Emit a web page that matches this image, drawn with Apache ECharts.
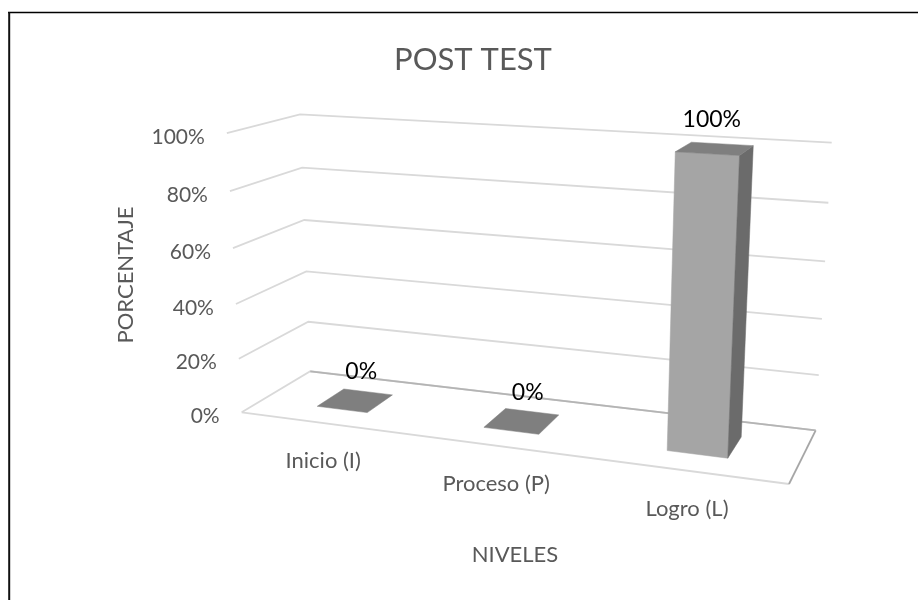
<!DOCTYPE html>
<html>
<head>
<meta charset="utf-8">
<style>
  html, body { margin: 0; padding: 0; background: #fff; }
  #chart { width: 918px; height: 600px; }
</style>
<script src="https://cdn.jsdelivr.net/npm/echarts@6/dist/echarts.min.js"></script>
</head>
<body>
<div id="chart"></div>
<script>
var categories = ['Inicio (I)', 'Proceso (P)', 'Logro (L)'];
var values = [0, 0, 100];
var yTicks = [0, 20, 40, 60, 80, 100];

var textColor = '#595959';
var font = 'Lato';

// corners of the 3d box
var floorA = [241.7, 412.3];  // front left
var floorB = [310.3, 371.3];  // back left
var floorC = [815.7, 430.3];  // back right
var floorD = [789, 484];      // front right
var topBack = [300, 114.3];   // back left at 100%
var topBackR = [831.7, 142.7]; // back right at 100%

// square to quad homography for the floor: u along categories, d from front to back
function floorMatrix() {
  var x0 = floorA[0], y0 = floorA[1];
  var x1 = floorD[0], y1 = floorD[1];
  var x2 = floorC[0], y2 = floorC[1];
  var x3 = floorB[0], y3 = floorB[1];
  var dx1 = x1 - x2, dx2 = x3 - x2, sx = x0 - x1 + x2 - x3;
  var dy1 = y1 - y2, dy2 = y3 - y2, sy = y0 - y1 + y2 - y3;
  var det = dx1 * dy2 - dx2 * dy1;
  var g = (sx * dy2 - dx2 * sy) / det;
  var h = (dx1 * sy - sx * dy1) / det;
  return {
    a: x1 - x0 + g * x1, b: x3 - x0 + h * x3, c: x0,
    d: y1 - y0 + g * y1, e: y3 - y0 + h * y3, f: y0,
    g: g, h: h
  };
}
var m = floorMatrix();

// height terms, solved from the two top back corners
function heightTerms() {
  var wL = m.h + 1, wR = m.g + m.h + 1;
  var xL = m.b + m.c, yL = m.e + m.f;
  var xR = m.a + m.b + m.c, yR = m.d + m.e + m.f;
  // x = (X + p*t) / (W + r*t), same p and r at both corners
  var b1 = -topBack[0], c1 = topBack[0] * wL - xL;
  var b2 = -topBackR[0], c2 = topBackR[0] * wR - xR;
  var r = (c1 - c2) / (b1 - b2);
  var p = c1 - b1 * r;
  var q = topBack[1] * (wL + r) - yL;
  // extra tilt so the right end of the wall lands on its y as well
  var s = topBackR[1] * (wR + r) - yR - q;
  return { p: p, q: q, r: r, s: s };
}
var t = heightTerms();

function project(u, d, v) {
  var w = m.g * u + m.h * d + 1 + t.r * v;
  return [
    (m.a * u + m.b * d + m.c + t.p * v) / w,
    (m.d * u + m.e * d + m.f + t.q * v + t.s * u * v) / w
  ];
}

// hidden cartesian grid gives the scales, result goes through project()
function toBox(params, api, pt) {
  var c = params.coordSys;
  var p = api.coord(pt);
  return [(p[0] - c.x) / c.width, 1 - (p[1] - c.y) / c.height];
}

function poly(points, fill) {
  return { type: 'polygon', shape: { points: points }, style: { fill: fill, stroke: fill, lineWidth: 0.5 } };
}

function line(points, color) {
  return { type: 'polyline', shape: { points: points }, style: { fill: null, stroke: color, lineWidth: 1.8 } };
}

function renderGridLine(params, api) {
  var v = toBox(params, api, [0, api.value(0)])[1];
  var front = project(0, 0, v);
  var children = [
    line([front, project(0, 1, v), project(1, 1, v)], '#d9d9d9'),
    { type: 'text',
      style: {
        text: api.value(0) + '%',
        x: front[0] - 22, y: front[1] + 4,
        align: 'right', verticalAlign: 'middle',
        fill: textColor, font: '21px ' + font
      } }
  ];
  if (v === 0) {
    children.push(line([project(0, 0, 0), project(1, 0, 0)], '#d9d9d9'));
    children.push(line([project(1, 0, 0), project(1, 1, 0)], '#a6a6a6'));
    children.push(line([project(0, 1, 0), project(1, 1, 0)], '#b4b4b4'));
  }
  return { type: 'group', children: children };
}

var depthFront = 0.295, depthBack = 0.705, barWidth = 0.31;

function renderBar(params, api) {
  var cat = api.value(0), val = api.value(1);
  var center = toBox(params, api, [cat, val]);
  var half = api.size([1, 0])[0] / params.coordSys.width * barWidth / 2;
  var u0 = center[0] - half, u1 = center[0] + half, v = center[1];
  var d0 = depthFront, d1 = depthBack;
  var children = [];
  if (v > 0) {
    children.push(poly([project(u0, d0, 0), project(u1, d0, 0), project(u1, d0, v), project(u0, d0, v)], '#a5a5a5'));
    children.push(poly([project(u1, d0, 0), project(u1, d1, 0), project(u1, d1, v), project(u1, d0, v)], '#6b6b6b'));
  }
  children.push(poly([project(u0, d0, v), project(u1, d0, v), project(u1, d1, v), project(u0, d1, v)], '#7f7f7f'));
  var mid = project(center[0], (d0 + d1) / 2, v);
  children.push({ type: 'text',
    style: {
      text: val + '%', x: mid[0] + (v > 0 ? -3 : 6), y: mid[1] - 29,
      align: 'center', verticalAlign: 'middle',
      fill: '#000', font: '23px ' + font
    } });
  return { type: 'group', children: children };
}

function renderCatLabel(params, api) {
  var p = toBox(params, api, [api.value(0), 0]);
  var pos = project(p[0], 0, 0);
  return { type: 'text',
    style: {
      text: categories[api.value(0)], x: pos[0] + 1, y: pos[1] + 38,
      align: 'center', verticalAlign: 'middle',
      fill: textColor, font: '22px ' + font
    } };
}

var chart = echarts.init(document.getElementById('chart'), null, { renderer: 'canvas' });
chart.setOption({
  backgroundColor: '#fff',
  animation: false,
  title: {
    text: 'POST TEST', left: 468, top: 39, textAlign: 'center',
    textStyle: { color: textColor, fontFamily: font, fontWeight: 'normal', fontSize: 31 }
  },
  grid: { left: 100, right: 100, top: 100, bottom: 100 },
  xAxis: { type: 'category', data: categories, show: false },
  yAxis: { type: 'value', min: 0, max: 100, show: false },
  graphic: [
    { type: 'line', shape: { x1: 8, y1: 12.5, x2: 918, y2: 12.5 }, style: { stroke: '#000', lineWidth: 1.6 }, silent: true },
    { type: 'line', shape: { x1: 9.2, y1: 12, x2: 9.2, y2: 600 }, style: { stroke: '#111', lineWidth: 2 }, silent: true },
    { type: 'text', x: 126, y: 275, rotation: Math.PI / 2,
      style: { text: 'PORCENTAJE', align: 'center', verticalAlign: 'middle', fill: textColor, font: '22px ' + font } },
    { type: 'text', x: 515, y: 555,
      style: { text: 'NIVELES', align: 'center', verticalAlign: 'middle', fill: textColor, font: '22px ' + font } }
  ],
  series: [
    { type: 'custom', coordinateSystem: 'cartesian2d', renderItem: renderGridLine, clip: false,
      data: yTicks.map(function (v) { return [v]; }), encode: { y: 0 } },
    { type: 'custom', coordinateSystem: 'cartesian2d', renderItem: renderBar, clip: false,
      data: values.map(function (v, i) { return [i, v]; }), encode: { x: 0, y: 1 } },
    { type: 'custom', coordinateSystem: 'cartesian2d', renderItem: renderCatLabel, clip: false,
      data: categories.map(function (c, i) { return [i]; }), encode: { x: 0 } }
  ]
});
</script>
</body>
</html>
